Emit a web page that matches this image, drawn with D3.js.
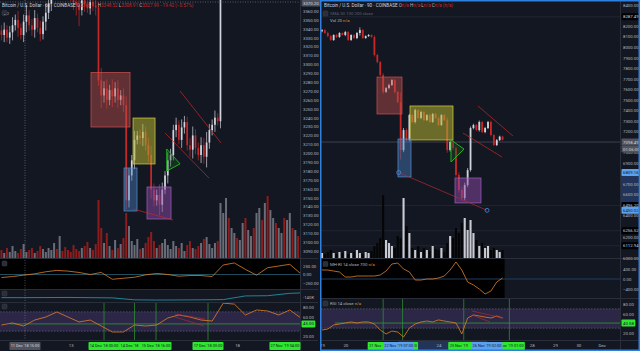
<!DOCTYPE html>
<html>
<head>
<meta charset="utf-8">
<script src="https://cdn.jsdelivr.net/npm/d3@7"></script>
<style>
  body { margin: 0; background: #131722; }
  svg { display: block; }
  text { font-family: Roboto, "Liberation Sans", sans-serif; }
</style>
</head>
<body>
<svg id="chart" width="640" height="351"></svg>
<script>
//Left chart data: BTC/USD 60, Coinbase, one candle every 2h from 10 Dec 2018 22:00

const leftStart = new Date("2018-12-10T22:00");
const leftOpen0 = 3338;
const leftClose = [3333,3339,3330,3336,3344,3350,3341,3333,3348,3355,3344,3339,3352,3341,3334,3348,3358,3368,
  3385,3398,3392,3405,3400,3392,3386,3378,3370,
  3367,3361,3372,3367,3363,3370,3366,3364,
  3282,
  3265,3273,3260,3271,3264,3273,3260,3265,3254,
  3147,
  3175,3192,3215,3220,3217,3224,3209,3198,3159,3147,3153,3142,3159,3175,3192,3198,3226,3232,3215,3229,3235,3209,3204,3220,3206,3198,3209,3196,3212,3226,3232,3240,3236,
  3395,
  3420,3440,3430,3452,3470,3462,3480,3498,3490,3510,3528,3520,3541,3560,3551,3570,3562,3580,3598,3590,3610,3628,3620,3640,3652,3645,3660,3655];
const leftWick = [6,8,5,7,9,6,10,5,8,12,6,7,9,5,8,6,10,7,
  8,6,9,7,5,8,6,7,9,
  12,18,6,8,5,7,6,9,
  6,
  14,8,10,6,12,7,9,6,8,
  10,
  8,6,10,5,7,9,6,8,10,7,6,12,8,5,9,7,6,8,5,9,7,6,8,10,7,6,9,8,12,7,6,8,5,
  8,
  7,9,6,8,10,5,7,9,6,8,7,10,6,8,9,5,7,8,6,9,7,10,6,8,7,9,6,8];
const leftVol = [160,100,200,120,240,140,100,180,280,120,160,200,100,140,240,180,120,200,
  160,300,180,440,140,220,160,120,260,
  180,140,200,240,320,200,160,280,
  1160,
  600,300,500,240,160,360,200,280,400,
  900,
  640,340,260,380,180,200,300,420,520,340,200,260,300,380,260,180,340,240,200,300,140,260,340,200,180,240,300,380,420,280,200,300,340,
  1100,
  900,1200,800,600,500,400,360,700,800,560,440,600,900,1000,760,1100,1240,960,800,700,600,500,800,760,900,600,560,440];

//Left indicators (oscillator and RSI every 8h, OBV every 16h)

const leftOsc = [-90,-60,-20,20,80,120,100,60,0,60,-140,-110,-80,-10,30,0,-50,-30,-30,-60,280,340,150,-20,200,250,300,20];
const leftObv = [-140,-140,-139,-138,-140,-142,-160,-162,-161,-160,-158,-124,-122,-100,-92];
const leftRsi = [42.8,47,40.7,53,59.3,69.7,59.3,49,53,40.7,28.3,28.3,42.8,40.7,42.8,57.3,63.5,59.3,53,51,88,86,63.5,73.8,71.8,63.5,73.8,57.3];

//Left drawings

const leftBoxes = [
  {kind: "red",    t0: "2018-12-13T14:36", t1: "2018-12-14T18:45", p0: 3291, p1: 3229.5},
  {kind: "yellow", t0: "2018-12-14T20:55", t1: "2018-12-15T12:48", p0: 3239.6, p1: 3187.9},
  {kind: "blue",   t0: "2018-12-14T14:26", t1: "2018-12-14T23:48", p0: 3183.4, p1: 3135},
  {kind: "purple", t0: "2018-12-15T07:00", t1: "2018-12-16T00:20", p0: 3162, p1: 3126}
];
const leftTriangle = [["2018-12-15T21:14", 3204.8], ["2018-12-15T21:14", 3180], ["2018-12-16T06:50", 3188]];
const leftTrend = [
  [["2018-12-15T20:00", 3222.8], ["2018-12-17T03:45", 3172]],
  [["2018-12-16T06:50", 3270], ["2018-12-17T12:25", 3211.5]],
  [["2018-12-14T20:55", 3137.3], ["2018-12-16T01:45", 3124.9]]
];
const leftRsiChannel = [
  [["2018-12-16T03:14", 65.5], ["2018-12-17T00:52", 55.2]],
  [["2018-12-16T03:14", 59.3], ["2018-12-17T00:08", 40.7]]
];
const leftDayTicks = ["2018-12-13T00:00", "2018-12-18T00:00"];
// label = the part of each time badge left uncovered by the next one
const leftTimeBadges = [
  {t: "2018-12-11T15:00", label: "11 Dec '18  15:00", kind: "gray",  align: "middle"},
  {t: "2018-12-14T00:00", label: "14 Dec '18  00:00", kind: "green", align: "middle"},
  {t: "2018-12-14T22:00", label: "14 Dec '18", kind: "green", align: "start"},
  {t: "2018-12-15T13:30", label: "15 Dec '18  16:00", kind: "green", align: "middle"},
  {t: "2018-12-17T03:00", label: "17 Dec '18  03:00", kind: "green", align: "middle"},
  {t: "2018-12-19T10:30", label: "27 Nov '19  04:00", kind: "green", align: "middle"}
];
const leftPriceTicks = d3.range(3090, 3361, 10);

//Right chart data: BTC/USD 90, Coinbase, one candle every 3h from 19 Nov 2019

const rightStart = new Date("2019-11-19T00:00");
const rightOpen0 = 8150;
const rightClose = [8162,8134,8105,8067,8115,8096,8134,8115,8143,8067,8115,8086,8134,8162,8086,8105,8115,8096,7925,7858,
  7735,7574,7611,7640,7687,7574,7478,7022,7212,7117,7355,7289,7402,7327,7384,7307,7355,7289,7365,7327,
  7260,7355,7307,7022,7098,7041,6785,6643,6567,6690,6832,7231,7260,7212,7289,7193,7231,7289,7165,7070,
  7117,7150,7120];
const rightWick = [10,8,12,9,7,10,8,6,11,9,7,8,10,25,8,7,9,6,15,12,10,18,9,12,10,14,8,90,20,15,
  12,10,14,9,12,10,8,11,9,10,12,8,10,25,15,20,18,25,30,22,20,15,12,10,14,9,11,10,12,8,10,9,8];
const rightVol = [100,80,120,160,100,80,120,100,140,80,100,120,160,100,80,120,100,140,
  240,300,400,1260,360,300,240,200,440,400,1200,640,500,
  200,160,240,120,200,160,140,240,180,160,200,120,
  300,440,400,600,500,700,800,560,
  760,500,360,240,300,200,240,160,200,160,120,160];

//Right indicators, every 6h

const rightOsc = [360,360,320,280,80,80,120,120,120,120,160,320,600,640,400,280,-40,-40,0,0,40,120,360,680,360,-120,-240,-400,-600,-480,-120,40];
const rightRsi = [26.2,28.3,36.6,38.6,40.7,42.8,40.7,42.8,42.8,38.6,26.2,18,24,22,11.7,30.4,38.6,42.8,44.8,42.8,47,44.8,42.8,40.7,18,51,57.3,55.2,53,51,55.2,51];

//Right drawings

const rightBoxes = [
  {kind: "red",    t0: "2019-11-21T08:39", t1: "2019-11-22T10:24", p0: 7716, p1: 7365},
  {kind: "yellow", t0: "2019-11-22T18:38", t1: "2019-11-24T14:56", p0: 7441, p1: 7118},
  {kind: "blue",   t0: "2019-11-22T06:16", t1: "2019-11-22T19:40", p0: 7127, p1: 6767},
  {kind: "purple", t0: "2019-11-24T17:00", t1: "2019-11-25T19:46", p0: 6757, p1: 6520}
];
const rightTriangle = [["2019-11-24T12:52", 7118], ["2019-11-24T12:52", 6909], ["2019-11-25T02:16", 7032]];
const rightTrend = [
  [["2019-11-25T16:41", 7441], ["2019-11-27T04:43", 7156]],
  [["2019-11-25T01:14", 7184], ["2019-11-26T17:24", 6956]]
];
const rightRay = [["2019-11-22T07:00", 6809.16], ["2019-11-26T02:00", 6450.02]];
const rightLevels = [8287.49, 6496.20, 6256.52, 6112.94];
const rightLastPrice = 7098.49;
const rightRsiChannel = [
  [["2019-11-25T10:30", 65.5], ["2019-11-26T18:25", 51]],
  [["2019-11-25T10:30", 57.3], ["2019-11-26T05:00", 42.8]]
];
const rightDayTicks = ["2019-11-19","2019-11-20","2019-11-24","2019-11-28","2019-11-29","2019-11-30","2019-12-01"];
const rightTimeBadges = [
  {t: "2019-11-21T15:00", label: "21 Nov", kind: "green", align: "start"},
  {t: "2019-11-22T11:00", label: "00", kind: "green", align: "end"},
  {t: "2019-11-25T02:00", label: "25 Nov '19", kind: "green", align: "start"},
  {t: "2019-11-27T01:00", label: "ov '19  01:00", kind: "green", align: "end"},
  {t: "2019-11-22T07:00", label: "22 Nov '19  07:00", kind: "blue", align: "middle"},
  {t: "2019-11-26T02:00", label: "26 Nov '19  02:00", kind: "blue", align: "middle"}
];
const rightPriceTicks = d3.range(6000, 8401, 100);

//Styles

const BG = "#131722", SEP = "#2a2e39", AX = "#b2b5be";
const UP = "#d1d4dc", DOWN = "#c62828";
const boxStyle = {
  red:    {fill: "#c0504d", stroke: "#d05050", op: 0.45},
  yellow: {fill: "#b5b232", stroke: "#d8d040", op: 0.55},
  blue:   {fill: "#4a7fc0", stroke: "#5a90d0", op: 0.45},
  purple: {fill: "#8e4aa8", stroke: "#a060c0", op: 0.5}
};
const badgeStyle = {
  green: {fill: "#2ee82e", text: "#131722"},
  blue:  {fill: "#5aa2ee", text: "#131722"},
  gray:  {fill: "#50535e", text: "#d1d4dc"},
  black: {fill: "#000000", text: "#d1d4dc"}
};
const TIME_BADGE_W = 31;

const svg = d3.select("#chart");
svg.append("rect").attr("width", 640).attr("height", 351).attr("fill", BG);
const defs = svg.append("defs");

function clip(id, x, y, w, h){
  defs.append("clipPath").attr("id", id).append("rect")
   .attr("x", x).attr("y", y).attr("width", w).attr("height", h);
  return "url(#" + id + ")";
}

function makeCandles(start, stepH, open0, closes, wicks, vols){
  return closes.map((c, i) => {
    const o = i ? closes[i-1] : open0;
    return { t: d3.timeHour.offset(start, stepH*i), o: o, c: c,
      h: Math.max(o, c) + wicks[i], l: Math.min(o, c) - wicks[i], v: vols[i] };
  });
}

function series(start, stepH, values){
  return values.map((v, i) => ({ t: d3.timeHour.offset(start, stepH*i), v: v }));
}

function drawVolume(g, data, x, yv, bw, upCol, downCol){
  g.selectAll("rect.vol").data(data).join("rect")
   .attr("x", d => x(d.t) - bw/2)
   .attr("width", bw)
   .attr("y", d => yv(d.v))
   .attr("height", d => yv(0) - yv(d.v))
   .attr("fill", d => d.c >= d.o ? upCol : downCol);
}

function drawCandles(g, data, x, y, bw){
  const c = g.selectAll("g.candle").data(data).join("g");
  c.append("line")
   .attr("x1", d => x(d.t)).attr("x2", d => x(d.t))
   .attr("y1", d => y(d.h)).attr("y2", d => y(d.l))
   .attr("stroke", d => d.c >= d.o ? UP : DOWN)
   .attr("stroke-width", 0.7);
  c.append("rect")
   .attr("x", d => x(d.t) - bw/2)
   .attr("width", bw)
   .attr("y", d => y(Math.max(d.o, d.c)))
   .attr("height", d => Math.max(0.7, Math.abs(y(d.o) - y(d.c))))
   .attr("fill", d => d.c >= d.o ? UP : DOWN);
}

function drawBoxes(g, boxes, x, y){
  g.selectAll("rect.box").data(boxes).join("rect")
   .attr("x", d => x(new Date(d.t0)))
   .attr("width", d => x(new Date(d.t1)) - x(new Date(d.t0)))
   .attr("y", d => y(d.p0))
   .attr("height", d => y(d.p1) - y(d.p0))
   .attr("fill", d => boxStyle[d.kind].fill)
   .attr("fill-opacity", d => boxStyle[d.kind].op)
   .attr("stroke", d => boxStyle[d.kind].stroke)
   .attr("stroke-width", 0.7);
}

function drawSegments(g, segs, x, y, col, w){
  g.selectAll(null).data(segs).join("line")
   .attr("x1", d => x(new Date(d[0][0]))).attr("y1", d => y(d[0][1]))
   .attr("x2", d => x(new Date(d[1][0]))).attr("y2", d => y(d[1][1]))
   .attr("stroke", col).attr("stroke-width", w);
}

function drawTriangle(g, pts, x, y){
  g.append("path")
   .attr("d", d3.line().x(d => x(new Date(d[0]))).y(d => y(d[1]))(pts) + "Z")
   .attr("fill", "#1b5e20").attr("fill-opacity", 0.35)
   .attr("stroke", "#22c022").attr("stroke-width", 0.9);
}

function drawLine(g, data, x, y, col, w){
  g.append("path").datum(data)
   .attr("fill", "none").attr("stroke", col).attr("stroke-width", w)
   .attr("d", d3.line().x(d => x(d.t)).y(d => y(d.v)));
}

function priceAxis(g, x0, y, ticks, skip){
  g.append("g")
   .attr("transform", "translate(" + x0 + ",0)")
   .call(d3.axisRight(y).tickValues(ticks.filter(v => !skip.some(s => Math.abs(y(s) - y(v)) < 5)))
     .tickFormat(d3.format(".2f")).tickSize(0).tickPadding(2))
   .call(a => a.select(".domain").remove())
   .call(a => a.selectAll("text").attr("fill", AX).attr("font-size", 4.3).attr("font-family", null));
}

// price badge: rect sized to its text, anchored at its left edge
function badge(g, x0, cy, text, kind){
  const st = badgeStyle[kind];
  const b = g.append("g");
  const t = b.append("text").attr("x", x0 + 1.5).attr("y", cy + 1.5)
   .attr("font-size", 4.3).attr("fill", st.text).text(text);
  const w = t.node().getComputedTextLength() + 3;
  b.insert("rect", "text").attr("x", x0).attr("y", cy - 3.5).attr("width", w).attr("height", 7)
   .attr("rx", 0.8).attr("fill", st.fill);
}

// time badge: fixed width, centred on its time
function timeBadge(g, cx, cy, d){
  const st = badgeStyle[d.kind];
  const left = cx - TIME_BADGE_W/2;
  g.append("rect").attr("x", left).attr("y", cy - 4).attr("width", TIME_BADGE_W).attr("height", 8)
   .attr("rx", 0.8).attr("fill", st.fill);
  const tx = d.align === "start" ? left + 1.5 : d.align === "end" ? left + TIME_BADGE_W - 1.2 : cx;
  g.append("text").attr("x", tx).attr("y", cy + 1.4).attr("text-anchor", d.align)
   .attr("font-size", 3.9).attr("fill", st.text).text(d.label);
}

function label(g, x, y, parts, size){
  const t = g.append("text").attr("x", x).attr("y", y).attr("font-size", size || 4.6);
  parts.forEach(p => t.append("tspan").attr("fill", p[1]).text(p[0]));
}

function iconBox(g, x, y){
  g.append("rect").attr("x", x).attr("y", y).attr("width", 5).attr("height", 5)
   .attr("rx", 0.8).attr("fill", "#2a2e39").attr("stroke", "#434651").attr("stroke-width", 0.4);
}

// ======================= LEFT CHART =======================

const xL = d3.scaleTime()
  .domain([new Date("2018-12-11T15:00"), new Date("2018-12-17T03:00")])
  .range([25, 208]);
const yL = d3.scaleLinear().domain([3090, 3360]).range([251, 11]);
const yLv = d3.scaleLinear().domain([0, 3000]).range([258, 108]);
const yLosc = d3.scaleLinear().domain([-250, 250]).range([283, 266]);
const yLobv = d3.scaleLinear().domain([-180, -60]).range([302, 289]);
const yLrsi = d3.scaleLinear().domain([20, 80]).range([336, 307]);

const leftData = makeCandles(leftStart, 2, leftOpen0, leftClose, leftWick, leftVol);

const gL = svg.append("g");
// panel backgrounds
gL.append("rect").attr("x", 0).attr("y", 259).attr("width", 300).attr("height", 30).attr("fill", "#000");
gL.append("rect").attr("x", 0).attr("y", yLrsi(70)).attr("width", 300).attr("height", yLrsi(30) - yLrsi(70))
  .attr("fill", "#7e57c2").attr("fill-opacity", 0.24);

const gLp = gL.append("g").attr("clip-path", clip("clipL", 0, 0, 300, 258));
drawVolume(gLp, leftData, xL, yLv, 2.0, "#6a6d78", "#8e1c1c");
drawCandles(gLp, leftData, xL, yL, 1.7);
drawBoxes(gLp, leftBoxes, xL, yL);
drawTriangle(gLp, leftTriangle, xL, yL);
drawSegments(gLp, leftTrend, xL, yL, "#c62828", 0.7);

// oscillator panel
const gLo = gL.append("g").attr("clip-path", clip("clipLo", 0, 259, 300, 30));
gLo.append("line").attr("x1", 0).attr("x2", 300).attr("y1", yLosc(0)).attr("y2", yLosc(0))
  .attr("stroke", "#1e4e5e").attr("stroke-width", 1);
drawLine(gLo, series(leftStart, 8, leftOsc), xL, yLosc, "#e0802a", 0.8);

// OBV panel
const gLb = gL.append("g").attr("clip-path", clip("clipLb", 0, 289, 300, 13));
drawLine(gLb, series(leftStart, 16, leftObv), xL, yLobv, "#26a0b0", 0.8);

// RSI panel
const gLr = gL.append("g").attr("clip-path", clip("clipLr", 0, 302, 300, 38));
[70, 30].forEach(v => gLr.append("line").attr("x1", 0).attr("x2", 300).attr("y1", yLrsi(v)).attr("y2", yLrsi(v))
  .attr("stroke", "#787b86").attr("stroke-width", 0.5).attr("stroke-dasharray", "1.5,1.5"));
gLr.append("line").attr("x1", 10).attr("x2", 300).attr("y1", yLrsi(45)).attr("y2", yLrsi(45))
  .attr("stroke", "#2e9e2e").attr("stroke-width", 0.8);
leftTimeBadges.filter(d => d.kind === "green").slice(0, 4).forEach(d =>
  gLr.append("line").attr("x1", xL(new Date(d.t))).attr("x2", xL(new Date(d.t))).attr("y1", 302).attr("y2", 340)
   .attr("stroke", "#2e9e2e").attr("stroke-width", 0.7));
drawLine(gLr, series(leftStart, 8, leftRsi), xL, yLrsi, "#e0802a", 0.8);
drawSegments(gLr, leftRsiChannel, xL, yLrsi, "#c62828", 0.6);

// crosshair
gL.append("line").attr("x1", 25).attr("x2", 25).attr("y1", 0).attr("y2", 340)
  .attr("stroke", "#9598a1").attr("stroke-width", 0.5).attr("stroke-dasharray", "1,1.5");
gL.append("line").attr("x1", 0).attr("x2", 300).attr("y1", 2).attr("y2", 2)
  .attr("stroke", "#9598a1").attr("stroke-width", 0.5).attr("stroke-dasharray", "1,1.5");

// separators
[258.5, 289.5, 302.5, 340.5].forEach(y => gL.append("line").attr("x1", 0).attr("x2", 318).attr("y1", y).attr("y2", y)
  .attr("stroke", SEP).attr("stroke-width", 1));
gL.append("line").attr("x1", 300.5).attr("x2", 300.5).attr("y1", 0).attr("y2", 351).attr("stroke", SEP);

// axes
priceAxis(gL, 301, yL, leftPriceTicks, []);
priceAxis(gL, 301, yLosc, [250, 0, -250], []);
priceAxis(gL, 301, yLrsi, [80, 60, 20], []);
gL.append("text").attr("x", 303).attr("y", yLobv(-140) + 1.5).attr("font-size", 4.3).attr("fill", AX).text("-140K");
badge(gL, 301.5, 3, "3370.20", "gray");
badge(gL, 301.5, yLrsi(45), "45.00", "green");

gL.append("g").attr("transform", "translate(0,341)")
  .call(d3.axisBottom(xL).tickValues(leftDayTicks.map(d => new Date(d))).tickFormat(d3.timeFormat("%-d")).tickSize(0).tickPadding(3))
  .call(a => a.select(".domain").remove())
  .call(a => a.selectAll("text").attr("fill", AX).attr("font-size", 4.3).attr("font-family", null));
leftTimeBadges.forEach(d => timeBadge(gL, xL(new Date(d.t)), 346, d));

// headers
label(gL, 2, 7, [["Bitcoin / U.S. Dollar · 60 · COINBASE  ", "#d1d4dc"],
  ["O", AX], ["3346.91 ", DOWN], ["H", AX], ["3348.52 ", DOWN], ["L", AX], ["3308.91 ", DOWN],
  ["C", AX], ["3327.99 −19.42 (−0.57%)", DOWN]]);
iconBox(gL, 2, 10.5);
label(gL, 3, 14.6, [["⌄ 2", AX]], 3.6);
iconBox(gL, 2, 261);
iconBox(gL, 2, 291);
iconBox(gL, 2, 304);

// ======================= RIGHT CHART =======================

const xR = d3.scaleTime()
  .domain([new Date("2019-11-19T00:00"), new Date("2019-11-20T00:00")])
  .range([322, 345.3]);
const yR = d3.scaleLinear().domain([6000, 8400]).range([257.7, 5]);
const yRv = d3.scaleLinear().domain([0, 3000]).range([258, 108]);
const yRosc = d3.scaleLinear().domain([-400, 400]).range([289, 269]);
const yRrsi = d3.scaleLinear().domain([20, 80]).range([333, 304]);

const rightData = makeCandles(rightStart, 3, rightOpen0, rightClose, rightWick, rightVol);
const lastX = xR(rightData[rightData.length - 1].t) + 2;

const gR = svg.append("g");
// time and price ranges of the selected drawing
gR.append("rect").attr("x", xR(new Date(rightRay[0][0]))).attr("y", 341)
  .attr("width", xR(new Date(rightRay[1][0])) - xR(new Date(rightRay[0][0]))).attr("height", 10).attr("fill", "#22345a");
gR.append("rect").attr("x", 621).attr("y", yR(rightRay[0][1])).attr("width", 17)
  .attr("height", yR(rightRay[1][1]) - yR(rightRay[0][1])).attr("fill", "#22345a");

gR.append("rect").attr("x", 321).attr("y", 259).attr("width", lastX - 321).attr("height", 39).attr("fill", "#000");
gR.append("rect").attr("x", 321).attr("y", yRrsi(70)).attr("width", 299).attr("height", yRrsi(30) - yRrsi(70))
  .attr("fill", "#7e57c2").attr("fill-opacity", 0.24);

const gRp = gR.append("g").attr("clip-path", clip("clipR", 321, 0, 299, 258));
rightLevels.forEach(v => gRp.append("line").attr("x1", 321).attr("x2", 620).attr("y1", yR(v)).attr("y2", yR(v))
  .attr("stroke", "#262a36").attr("stroke-width", 0.8));
gRp.append("line").attr("x1", 321).attr("x2", 620).attr("y1", yR(rightLastPrice)).attr("y2", yR(rightLastPrice))
  .attr("stroke", "#5d606b").attr("stroke-width", 0.6);
drawVolume(gRp, rightData, xR, yRv, 2.1, "#c9cbd1", "#050505");
drawCandles(gRp, rightData, xR, yR, 1.8);
drawBoxes(gRp, rightBoxes, xR, yR);
drawTriangle(gRp, rightTriangle, xR, yR);
drawSegments(gRp, rightTrend, xR, yR, "#c62828", 0.7);
drawSegments(gRp, [rightRay], xR, yR, "#b02a3a", 0.7);
gRp.selectAll("circle.end").data(rightRay).join("circle")
  .attr("cx", d => xR(new Date(d[0]))).attr("cy", d => yR(d[1])).attr("r", 2)
  .attr("fill", "none").attr("stroke", "#3d8ee8").attr("stroke-width", 0.8);

// oscillator panel
const gRo = gR.append("g").attr("clip-path", clip("clipRo", 321, 259, 299, 39));
gRo.append("line").attr("x1", 321).attr("x2", 620).attr("y1", yRosc(0)).attr("y2", yRosc(0))
  .attr("stroke", "#1e3e5e").attr("stroke-width", 1.2);
drawLine(gRo, series(rightStart, 6, rightOsc), xR, yRosc, "#e0802a", 0.8);

// RSI panel
const gRr = gR.append("g").attr("clip-path", clip("clipRr", 321, 299, 299, 41));
[70, 30].forEach(v => gRr.append("line").attr("x1", 321).attr("x2", 620).attr("y1", yRrsi(v)).attr("y2", yRrsi(v))
  .attr("stroke", "#787b86").attr("stroke-width", 0.5).attr("stroke-dasharray", "1.5,1.5"));
gRr.append("line").attr("x1", 335).attr("x2", 620).attr("y1", yRrsi(40.58)).attr("y2", yRrsi(40.58))
  .attr("stroke", "#2e9e2e").attr("stroke-width", 0.8);
rightTimeBadges.filter(d => d.kind === "green").forEach(d =>
  gRr.append("line").attr("x1", xR(new Date(d.t))).attr("x2", xR(new Date(d.t))).attr("y1", 298).attr("y2", 340)
   .attr("stroke", "#2e9e2e").attr("stroke-width", 0.7));
drawLine(gRr, series(rightStart, 6, rightRsi), xR, yRrsi, "#e0802a", 0.8);
drawSegments(gRr, rightRsiChannel, xR, yRrsi, "#c62828", 0.6);

// separators
[258.5, 298.5, 340.5].forEach(y => gR.append("line").attr("x1", 321).attr("x2", 639).attr("y1", y).attr("y2", y)
  .attr("stroke", SEP).attr("stroke-width", 1));
gR.append("line").attr("x1", 620.5).attr("x2", 620.5).attr("y1", 0).attr("y2", 351).attr("stroke", SEP);

// axes
const rBadges = rightLevels.concat([rightLastPrice, rightRay[0][1], rightRay[1][1]]);
priceAxis(gR, 621, yR, rightPriceTicks, rBadges);
priceAxis(gR, 621, yRosc, [400, 0, -400], []);
priceAxis(gR, 621, yRrsi, [80, 60, 20], []);
rightLevels.forEach(v => badge(gR, 621.5, yR(v), d3.format(".2f")(v), "black"));
badge(gR, 621.5, yR(rightLastPrice), d3.format(".2f")(rightLastPrice), "gray");
badge(gR, 621.5, yR(rightLastPrice) + 7, "01:06:00", "gray");
rightRay.forEach(d => badge(gR, 621.5, yR(d[1]), d3.format(".2f")(d[1]), "blue"));
badge(gR, 621.5, yRrsi(40.58), "40.58", "green");

gR.append("g").attr("transform", "translate(0,341)")
  .call(d3.axisBottom(xR).tickValues(rightDayTicks.map(d => new Date(d + "T00:00")))
    .tickFormat(d => d.getDate() === 1 ? d3.timeFormat("%b")(d) : d3.timeFormat("%-d")(d)).tickSize(0).tickPadding(3))
  .call(a => a.select(".domain").remove())
  .call(a => a.selectAll("text").attr("fill", AX).attr("font-size", 4.3).attr("font-family", null));
rightTimeBadges.forEach(d => timeBadge(gR, xR(new Date(d.t)), 346, d));

// headers
label(gR, 324, 7, [["Bitcoin / U.S. Dollar · 90 · COINBASE  ", "#d1d4dc"],
  ["O", AX], ["n/a ", DOWN], ["H", AX], ["n/a ", DOWN], ["L", AX], ["n/a ", DOWN], ["C", AX], ["n/a (n/a)", DOWN]]);
iconBox(gR, 323, 11);
label(gR, 330, 15, [["SMA 50 100 200 close", "#5d606b"]], 4.3);
label(gR, 330, 22, [["Vol 20  ", AX], ["n/a", "#e0902a"]], 4.3);
iconBox(gR, 323, 261.5);
label(gR, 330, 265.5, [["MH-RI 14 close 700  ", AX], ["n/a", "#e0902a"]], 4.3);
iconBox(gR, 323, 301);
label(gR, 330, 305, [["RSI 14 close  ", AX], ["n/a", "#e0902a"]], 4.3);

// selection border of the active chart
gR.append("rect").attr("x", 320.75).attr("y", 0.75).attr("width", 318.5).attr("height", 349.5)
  .attr("fill", "none").attr("stroke", "#2f7fe0").attr("stroke-width", 1.5);
</script>
</body>
</html>
